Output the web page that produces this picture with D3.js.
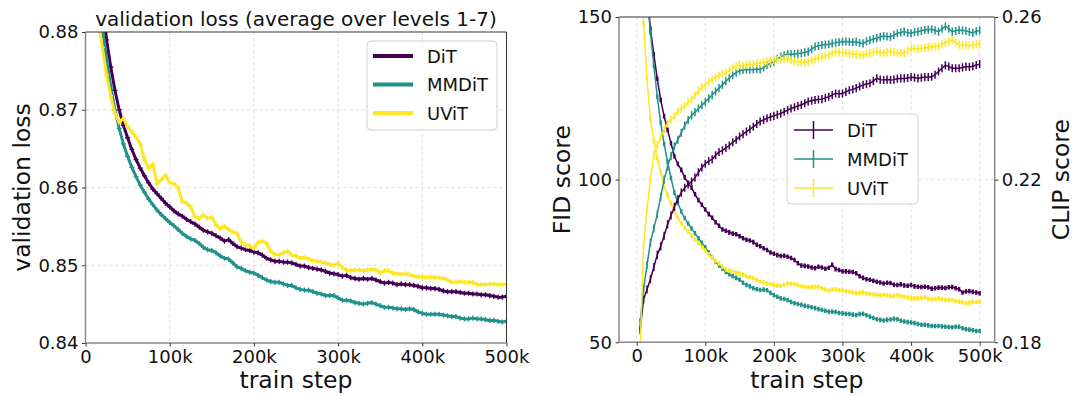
<!DOCTYPE html>
<html>
<head>
<meta charset="utf-8">
<script src="https://cdn.jsdelivr.net/npm/d3@7"></script>
<style>
  html, body { margin: 0; padding: 0; background: #fff; }
  svg { display: block; font-family: "DejaVu Sans", sans-serif; }
</style>
</head>
<body>
<div id="chart"></div>
<script>
// Two panels: validation loss vs train step (left), FID + CLIP vs train step
// with error bars on a twin y axis (right). Steps are in thousands.

const MODELS = ['DiT', 'MMDiT', 'UViT'];
const STEPS_K = [
  5, 10, 15, 20, 25, 30, 35, 40, 45, 50,
  55, 60, 65, 70, 75, 80, 85, 90, 95, 100,
  105, 110, 115, 120, 125, 130, 135, 140, 145, 150,
  155, 160, 165, 170, 175, 180, 185, 190, 195, 200,
  205, 210, 215, 220, 225, 230, 235, 240, 245, 250,
  255, 260, 265, 270, 275, 280, 285, 290, 295, 300,
  305, 310, 315, 320, 325, 330, 335, 340, 345, 350,
  355, 360, 365, 370, 375, 380, 385, 390, 395, 400,
  405, 410, 415, 420, 425, 430, 435, 440, 445, 450,
  455, 460, 465, 470, 475, 480, 485, 490, 495, 500,
];

const STEP_TICKS_K = [0, 100, 200, 300, 400, 500];
const LOSS_TICKS = [0.84, 0.85, 0.86, 0.87, 0.88];
const FID_TICKS = [50, 100, 150];
const CLIP_TICKS = [0.18, 0.22, 0.26];

const LOSS_DIT = [
  null, null, null, 0.8840, 0.8790, 0.8755, 0.8725, 0.8700, 0.8680, 0.8664,
  0.8649, 0.8636, 0.8625, 0.8615, 0.8606, 0.8598, 0.8592, 0.8586, 0.8580, 0.8575,
  0.8570, 0.8566, 0.8563, 0.8559, 0.8556, 0.8553, 0.8549, 0.8545, 0.8543, 0.8541,
  0.8538, 0.8535, 0.8531, 0.8533, 0.8528, 0.8524, 0.8522, 0.8520, 0.8519, 0.8517,
  0.8516, 0.8513, 0.8509, 0.8507, 0.8505, 0.8505, 0.8504, 0.8504, 0.8503, 0.8501,
  0.8499, 0.8499, 0.8497, 0.8496, 0.8495, 0.8494, 0.8492, 0.8490, 0.8489, 0.8488,
  0.8486, 0.8487, 0.8484, 0.8483, 0.8482, 0.8483, 0.8482, 0.8483, 0.8481, 0.8479,
  0.8477, 0.8478, 0.8477, 0.8475, 0.8476, 0.8475, 0.8475, 0.8474, 0.8473, 0.8471,
  0.8471, 0.8470, 0.8470, 0.8469, 0.8467, 0.8466, 0.8466, 0.8466, 0.8465, 0.8464,
  0.8464, 0.8463, 0.8463, 0.8462, 0.8462, 0.8461, 0.8460, 0.8459, 0.8459, 0.8460,
];
const LOSS_MMDIT = [
  null, null, null, 0.8805, 0.8765, 0.8730, 0.8700, 0.8676, 0.8656, 0.8640,
  0.8626, 0.8614, 0.8603, 0.8594, 0.8585, 0.8578, 0.8571, 0.8565, 0.8560, 0.8555,
  0.8551, 0.8546, 0.8541, 0.8537, 0.8534, 0.8532, 0.8528, 0.8523, 0.8520, 0.8519,
  0.8516, 0.8512, 0.8509, 0.8508, 0.8503, 0.8498, 0.8496, 0.8493, 0.8491, 0.8490,
  0.8487, 0.8484, 0.8481, 0.8479, 0.8478, 0.8478, 0.8476, 0.8474, 0.8474, 0.8471,
  0.8469, 0.8468, 0.8468, 0.8466, 0.8464, 0.8463, 0.8461, 0.8461, 0.8461, 0.8458,
  0.8455, 0.8455, 0.8454, 0.8452, 0.8451, 0.8450, 0.8451, 0.8452, 0.8450, 0.8448,
  0.8446, 0.8446, 0.8445, 0.8444, 0.8444, 0.8443, 0.8444, 0.8443, 0.8440, 0.8438,
  0.8437, 0.8437, 0.8437, 0.8437, 0.8436, 0.8435, 0.8434, 0.8434, 0.8432, 0.8431,
  0.8431, 0.8432, 0.8431, 0.8431, 0.8430, 0.8429, 0.8429, 0.8428, 0.8427, 0.8428,
];
const LOSS_UVIT = [
  null, null, 0.8815, 0.8780, 0.8745, 0.8718, 0.8695, 0.8684, 0.8689, 0.8678,
  0.8672, 0.8665, 0.8656, 0.8636, 0.8625, 0.8630, 0.8605, 0.8610, 0.8616, 0.8606,
  0.8605, 0.8600, 0.8582, 0.8580, 0.8575, 0.8563, 0.8560, 0.8565, 0.8560, 0.8562,
  0.8552, 0.8547, 0.8550, 0.8546, 0.8543, 0.8541, 0.8530, 0.8526, 0.8525, 0.8522,
  0.8529, 0.8531, 0.8528, 0.8518, 0.8514, 0.8513, 0.8516, 0.8518, 0.8513, 0.8512,
  0.8509, 0.8510, 0.8508, 0.8506, 0.8505, 0.8504, 0.8503, 0.8501, 0.8500, 0.8502,
  0.8497, 0.8494, 0.8493, 0.8494, 0.8494, 0.8493, 0.8494, 0.8495, 0.8494, 0.8490,
  0.8493, 0.8493, 0.8490, 0.8489, 0.8488, 0.8489, 0.8488, 0.8486, 0.8485, 0.8485,
  0.8484, 0.8485, 0.8484, 0.8484, 0.8483, 0.8481, 0.8478, 0.8478, 0.8479, 0.8478,
  0.8478, 0.8478, 0.8475, 0.8475, 0.8475, 0.8476, 0.8476, 0.8475, 0.8475, 0.8476,
];

const FID_DIT = [
  null, null, 158, 146.5, 138.5, 131, 124.5, 119.5, 115.3, 111.2,
  107.2, 104.8, 103, 100.7, 99, 97.5, 95.5, 93.7, 92.3, 90.8,
  89.4, 88.3, 86.9, 85.8, 84.7, 84.3, 83.8, 83.4, 83.2, 82.6,
  82.0, 81.5, 81.3, 80.8, 80.0, 79.5, 78.9, 78.4, 77.6, 77.2,
  76.8, 76.5, 76.6, 76.3, 75.9, 75.3, 74.3, 73.6, 73.5, 73.3,
  73.0, 72.8, 73.2, 73.0, 72.6, 72.9, 73.8, 72.5, 72.2, 71.8,
  71.8, 71.7, 71.6, 71.2, 70.3, 69.8, 69.4, 69.2, 68.9, 68.6,
  68.4, 68.1, 68.3, 68.2, 67.7, 67.6, 67.8, 67.5, 67.4, 67.6,
  67.2, 67.1, 67.0, 67.1, 66.9, 66.5, 66.6, 66.8, 66.8, 66.7,
  66.9, 67.0, 66.6, 66.3, 65.3, 65.6, 65.7, 65.5, 65.3, 65.1,
];
const FID_MMDIT = [
  null, null, 157, 145.2, 135, 125.5, 117.5, 111, 105.5, 100.5,
  96, 92.8, 90.2, 88.2, 86.5, 85, 83.5, 82, 80.6, 79.2,
  77.6, 76.0, 74.8, 73.6, 72.6, 71.6, 70.9, 70.3, 69.8, 69.2,
  68.3, 67.6, 67.2, 66.6, 66.3, 66.1, 66.2, 66.0, 65.2, 64.5,
  64.0, 63.5, 63.3, 63.0, 62.4, 62.0, 61.8, 61.5, 61.2, 61.0,
  60.8, 60.5, 60.2, 59.9, 59.7, 59.4, 59.4, 59.3, 59.0, 58.9,
  58.8, 58.7, 58.5, 58.4, 58.7, 58.8, 58.3, 57.9, 57.5, 57.1,
  56.9, 56.7, 56.9, 57.0, 57.2, 57.1, 56.6, 56.4, 56.2, 56.1,
  55.9, 55.6, 55.4, 55.4, 55.2, 55.0, 55.0, 55.0, 54.9, 54.8,
  54.7, 54.6, 54.8, 54.8, 54.3, 54.0, 53.9, 53.7, 53.5, 53.5,
];
const FID_UVIT = [
  172, 148, 131, 118.5, 112, 106.5, 102.2, 98, 95.3, 92.7,
  90.2, 88.2, 86.6, 85.2, 84, 82.8, 81.6, 80.5, 79.4, 78.2,
  77.0, 75.9, 75.0, 74.2, 73.2, 72.4, 72.0, 71.7, 71.5, 71.2,
  70.8, 70.3, 70.0, 69.7, 69.2, 68.7, 68.4, 68.1, 67.9, 67.6,
  67.4, 67.3, 67.7, 68.1, 68.0, 67.9, 67.6, 67.3, 67.1, 66.9,
  67.0, 67.1, 66.9, 66.6, 66.2, 65.9, 66.2, 66.3, 66.0, 65.9,
  65.7, 65.6, 65.3, 65.1, 65.2, 65.3, 65.0, 64.9, 64.7, 64.5,
  64.5, 64.6, 64.4, 64.2, 64.3, 64.5, 64.2, 64.0, 63.8, 63.5,
  63.5, 63.5, 63.7, 63.8, 63.4, 63.2, 63.3, 63.5, 63.2, 63.0,
  63.0, 63.0, 62.8, 62.5, 62.3, 62.0, 62.2, 62.5, 62.4, 62.5,
];

const CLIP_DIT = [
  0.1830, 0.1905, 0.1930, 0.1955, 0.1985, 0.2015, 0.2036, 0.2062, 0.2090, 0.2112,
  0.2133, 0.2152, 0.2168, 0.2180, 0.2188, 0.2195, 0.2205, 0.2218, 0.2230, 0.2239,
  0.2246, 0.2250, 0.2260, 0.2268, 0.2272, 0.2278, 0.2284, 0.2292, 0.2298, 0.2306,
  0.2312, 0.2318, 0.2324, 0.2330, 0.2337, 0.2343, 0.2347, 0.2351, 0.2354, 0.2357,
  0.2360, 0.2363, 0.2367, 0.2371, 0.2375, 0.2378, 0.2381, 0.2384, 0.2388, 0.2392,
  0.2394, 0.2396, 0.2397, 0.2398, 0.2401, 0.2404, 0.2408, 0.2412, 0.2411, 0.2412,
  0.2416, 0.2420, 0.2422, 0.2425, 0.2429, 0.2433, 0.2435, 0.2437, 0.2443, 0.2449,
  0.2446, 0.2445, 0.2446, 0.2445, 0.2446, 0.2448, 0.2449, 0.2449, 0.2450, 0.2452,
  0.2451, 0.2449, 0.2451, 0.2452, 0.2452, 0.2453, 0.2458, 0.2466, 0.2474, 0.2481,
  0.2478, 0.2474, 0.2474, 0.2474, 0.2476, 0.2478, 0.2477, 0.2479, 0.2482, 0.2484,
];
const CLIP_MMDIT = [
  0.1850, 0.1930, 0.1990, 0.2045, 0.2080, 0.2115, 0.2158, 0.2200, 0.2232, 0.2258,
  0.2282, 0.2298, 0.2315, 0.2333, 0.2347, 0.2358, 0.2366, 0.2375, 0.2383, 0.2391,
  0.2400, 0.2408, 0.2417, 0.2425, 0.2433, 0.2442, 0.2450, 0.2457, 0.2463, 0.2468,
  0.2470, 0.2471, 0.2470, 0.2471, 0.2472, 0.2471, 0.2476, 0.2482, 0.2486, 0.2490,
  0.2497, 0.2502, 0.2506, 0.2509, 0.2508, 0.2509, 0.2510, 0.2511, 0.2513, 0.2515,
  0.2521, 0.2527, 0.2529, 0.2531, 0.2532, 0.2533, 0.2535, 0.2537, 0.2538, 0.2539,
  0.2540, 0.2539, 0.2538, 0.2539, 0.2536, 0.2535, 0.2540, 0.2543, 0.2546, 0.2548,
  0.2551, 0.2553, 0.2552, 0.2551, 0.2556, 0.2560, 0.2562, 0.2564, 0.2561, 0.2560,
  0.2563, 0.2564, 0.2566, 0.2568, 0.2569, 0.2570, 0.2567, 0.2564, 0.2571, 0.2577,
  0.2571, 0.2564, 0.2566, 0.2568, 0.2567, 0.2566, 0.2563, 0.2561, 0.2565, 0.2567,
];
const CLIP_UVIT = [
  0.1780, 0.2040, 0.2125, 0.2200, 0.2260, 0.2284, 0.2305, 0.2322, 0.2338, 0.2347,
  0.2356, 0.2368, 0.2374, 0.2381, 0.2390, 0.2397, 0.2407, 0.2419, 0.2427, 0.2433,
  0.2441, 0.2447, 0.2451, 0.2456, 0.2460, 0.2463, 0.2468, 0.2475, 0.2479, 0.2482,
  0.2481, 0.2483, 0.2484, 0.2484, 0.2487, 0.2486, 0.2489, 0.2490, 0.2492, 0.2494,
  0.2495, 0.2496, 0.2497, 0.2498, 0.2494, 0.2491, 0.2489, 0.2488, 0.2489, 0.2490,
  0.2493, 0.2496, 0.2499, 0.2501, 0.2504, 0.2507, 0.2511, 0.2515, 0.2513, 0.2512,
  0.2511, 0.2510, 0.2509, 0.2508, 0.2507, 0.2506, 0.2509, 0.2511, 0.2513, 0.2515,
  0.2512, 0.2511, 0.2513, 0.2515, 0.2513, 0.2512, 0.2511, 0.2511, 0.2517, 0.2523,
  0.2522, 0.2521, 0.2523, 0.2524, 0.2526, 0.2527, 0.2527, 0.2528, 0.2533, 0.2537,
  0.2540, 0.2543, 0.2537, 0.2532, 0.2531, 0.2531, 0.2530, 0.2531, 0.2533, 0.2534,
];

// half-widths of the error bars (data units)
const FID_ERR = 0.7;
const CLIP_ERR = 0.001;

const d3 = window.d3;
const FONT = '"DejaVu Sans", sans-serif';
const COLORS = { DiT: '#440154', MMDiT: '#21918c', UViT: '#fde725' };
const GRID = '#d4d4d4';
const SPINE_LIGHT = '#8a8a8a';
const SPINE_DARK = '#333';

const fmtK = (d) => (d === 0 ? '0' : `${d}k`);

const svg = d3.select('#chart').append('svg').attr('width', 1080).attr('height', 396);
svg.append('rect').attr('width', 1080).attr('height', 396).attr('fill', '#fff');

function styleAxis(g) {
  g.attr('font-family', FONT).attr('font-size', 18);
  g.select('.domain').remove();
  g.selectAll('.tick line').attr('stroke', '#222').attr('stroke-width', 0.9);
  g.selectAll('.tick text').attr('fill', '#111');
}

function drawFrame(box) {
  const f = svg.append('g');
  f.append('line').attr('x1', box.x0).attr('x2', box.x1).attr('y1', box.y0).attr('y2', box.y0)
    .attr('stroke', SPINE_DARK).attr('stroke-width', 1);
  f.append('line').attr('x1', box.x1).attr('x2', box.x1).attr('y1', box.y0).attr('y2', box.y1)
    .attr('stroke', box.rightColor || SPINE_DARK).attr('stroke-width', box.rightColor ? 1.5 : 1);
  f.append('line').attr('x1', box.x0).attr('x2', box.x0).attr('y1', box.y0).attr('y2', box.y1)
    .attr('stroke', SPINE_LIGHT).attr('stroke-width', 1.5);
  f.append('line').attr('x1', box.x0).attr('x2', box.x1).attr('y1', box.y1).attr('y2', box.y1)
    .attr('stroke', SPINE_LIGHT).attr('stroke-width', 1.5);
}

function seriesPoints(values) {
  return STEPS_K.map((k, i) => ({ k, v: values[i] })).filter((d) => d.v != null);
}

// ---------- left panel: validation loss ----------
const BL = { x0: 85.5, x1: 506.5, y0: 32, y1: 343 };
const xL = d3.scaleLinear().domain([0, 500]).range([BL.x0, BL.x1]);
const yL = d3.scaleLinear().domain([0.84, 0.88]).range([BL.y1, BL.y0]);

const gridL = svg.append('g').attr('stroke', GRID).attr('stroke-width', 0.8).attr('stroke-dasharray', '3,3');
STEP_TICKS_K.filter((d) => d > 0 && d < 500).forEach((d) => {
  gridL.append('line').attr('x1', xL(d)).attr('x2', xL(d)).attr('y1', BL.y0).attr('y2', BL.y1);
});
LOSS_TICKS.filter((d) => d > 0.84 && d < 0.88).forEach((d) => {
  gridL.append('line').attr('x1', BL.x0).attr('x2', BL.x1).attr('y1', yL(d)).attr('y2', yL(d));
});

svg.append('clipPath').attr('id', 'clipL').append('rect')
  .attr('x', BL.x0).attr('y', BL.y0).attr('width', BL.x1 - BL.x0).attr('height', BL.y1 - BL.y0);
const plotL = svg.append('g').attr('clip-path', 'url(#clipL)');

const LOSS_SERIES = [
  { name: 'DiT', values: LOSS_DIT },
  { name: 'MMDiT', values: LOSS_MMDIT },
  { name: 'UViT', values: LOSS_UVIT },
];
const lineL = d3.line().x((d) => xL(d.k)).y((d) => yL(d.v));
LOSS_SERIES.forEach((s) => {
  const pts = seriesPoints(s.values);
  plotL.append('path').datum(pts).attr('d', lineL)
    .attr('fill', 'none').attr('stroke', COLORS[s.name]).attr('stroke-width', 3).attr('stroke-linejoin', 'round');
  const plus = pts.map((d) => {
    const x = xL(d.k), y = yL(d.v);
    return `M${x - 2.5},${y}h5M${x},${y - 2.6}v5.2`;
  }).join('');
  plotL.append('path').attr('d', plus).attr('fill', 'none')
    .attr('stroke', COLORS[s.name]).attr('stroke-width', 1.3);
});

drawFrame(BL);

svg.append('g').attr('transform', `translate(0,${BL.y1})`)
  .call(d3.axisBottom(xL).tickValues(STEP_TICKS_K).tickFormat(fmtK).tickSize(3.5).tickPadding(3.5))
  .call(styleAxis);
svg.append('g').attr('transform', `translate(${BL.x0},0)`)
  .call(d3.axisLeft(yL).tickValues(LOSS_TICKS).tickFormat(d3.format('.2f')).tickSize(3.5).tickPadding(3.5))
  .call(styleAxis);

svg.append('text').attr('x', (BL.x0 + BL.x1) / 2).attr('y', 26).attr('text-anchor', 'middle')
  .attr('font-size', 20).attr('fill', '#111').text('validation loss (average over levels 1-7)');
svg.append('text').attr('x', (BL.x0 + BL.x1) / 2).attr('y', 388).attr('text-anchor', 'middle')
  .attr('font-size', 23.5).attr('fill', '#111').text('train step');
svg.append('text').attr('transform', `translate(30,${(BL.y0 + BL.y1) / 2}) rotate(-90)`)
  .attr('text-anchor', 'middle').attr('font-size', 23.5).attr('fill', '#111').text('validation loss');

// legend (left)
const legL = svg.append('g');
legL.append('rect').attr('x', 367).attr('y', 41).attr('width', 130).attr('height', 89).attr('rx', 4)
  .attr('fill', '#fff').attr('fill-opacity', 0.85).attr('stroke', '#d0d0d0').attr('stroke-width', 1);
MODELS.forEach((m, i) => {
  const y = 56 + i * 28.5;
  legL.append('line').attr('x1', 373).attr('x2', 413).attr('y1', y).attr('y2', y)
    .attr('stroke', COLORS[m]).attr('stroke-width', 4);
  legL.append('text').attr('x', 427).attr('y', y + 6.5).attr('font-size', 18).attr('fill', '#111').text(m);
});

// ---------- right panel: FID (left axis) and CLIP (right axis) ----------
const BR = { x0: 619, x1: 994.7, y0: 17, y1: 342.3, rightColor: SPINE_LIGHT };
const xR = d3.scaleLinear().domain([-25.8, 521.9]).range([BR.x0, BR.x1]);
const yF = d3.scaleLinear().domain([50, 150]).range([BR.y1, BR.y0]);
const yC = d3.scaleLinear().domain([0.18, 0.26]).range([BR.y1, BR.y0]);

const gridR = svg.append('g').attr('stroke', GRID).attr('stroke-width', 0.8).attr('stroke-dasharray', '3,3');
STEP_TICKS_K.forEach((d) => {
  gridR.append('line').attr('x1', xR(d)).attr('x2', xR(d)).attr('y1', BR.y0).attr('y2', BR.y1);
});
FID_TICKS.filter((d) => d > 50 && d < 150).forEach((d) => {
  gridR.append('line').attr('x1', BR.x0).attr('x2', BR.x1).attr('y1', yF(d)).attr('y2', yF(d));
});

svg.append('clipPath').attr('id', 'clipR').append('rect')
  .attr('x', BR.x0).attr('y', BR.y0).attr('width', BR.x1 - BR.x0).attr('height', BR.y1 - BR.y0);
const plotR = svg.append('g').attr('clip-path', 'url(#clipR)');

function drawErrorSeries(values, yScale, err, color, barWidth) {
  const pts = seriesPoints(values);
  const line = d3.line().x((d) => xR(d.k)).y((d) => yScale(d.v));
  plotR.append('path').datum(pts).attr('d', line)
    .attr('fill', 'none').attr('stroke', color).attr('stroke-width', 1.5);
  const bars = pts.map((d) => {
    const x = xR(d.k);
    return `M${x},${yScale(d.v - err)}V${yScale(d.v + err)}`;
  }).join('');
  plotR.append('path').attr('d', bars).attr('fill', 'none').attr('stroke', color).attr('stroke-width', barWidth);
}

const FID_SERIES = [
  { name: 'DiT', values: FID_DIT },
  { name: 'MMDiT', values: FID_MMDIT },
  { name: 'UViT', values: FID_UVIT },
];
const CLIP_SERIES = [
  { name: 'DiT', values: CLIP_DIT },
  { name: 'MMDiT', values: CLIP_MMDIT },
  { name: 'UViT', values: CLIP_UVIT },
];
FID_SERIES.forEach((s) => drawErrorSeries(s.values, yF, FID_ERR, COLORS[s.name], 2.4));
CLIP_SERIES.forEach((s) => drawErrorSeries(s.values, yC, CLIP_ERR, COLORS[s.name], 1.5));

drawFrame(BR);

svg.append('g').attr('transform', `translate(0,${BR.y1})`)
  .call(d3.axisBottom(xR).tickValues(STEP_TICKS_K).tickFormat(fmtK).tickSize(3.5).tickPadding(3.5))
  .call(styleAxis);
svg.append('g').attr('transform', `translate(${BR.x0},0)`)
  .call(d3.axisLeft(yF).tickValues(FID_TICKS).tickSize(3.5).tickPadding(3.5))
  .call(styleAxis);
svg.append('g').attr('transform', `translate(${BR.x1},0)`)
  .call(d3.axisRight(yC).tickValues(CLIP_TICKS).tickFormat(d3.format('.2f')).tickSize(3.5).tickPadding(3.5))
  .call(styleAxis);

svg.append('text').attr('x', (BR.x0 + BR.x1) / 2).attr('y', 388).attr('text-anchor', 'middle')
  .attr('font-size', 23.5).attr('fill', '#111').text('train step');
svg.append('text').attr('transform', `translate(569.5,${(BR.y0 + BR.y1) / 2}) rotate(-90)`)
  .attr('text-anchor', 'middle').attr('font-size', 23.5).attr('fill', '#111').text('FID score');
svg.append('text').attr('transform', `translate(1068.5,${(BR.y0 + BR.y1) / 2}) rotate(-90)`)
  .attr('text-anchor', 'middle').attr('font-size', 23.5).attr('fill', '#111').text('CLIP score');

// legend (right) with errorbar glyphs
const legR = svg.append('g');
legR.append('rect').attr('x', 787).attr('y', 114).attr('width', 131).attr('height', 90).attr('rx', 4)
  .attr('fill', '#fff').attr('fill-opacity', 0.85).attr('stroke', '#d0d0d0').attr('stroke-width', 1);
MODELS.forEach((m, i) => {
  const y = 130 + i * 29;
  legR.append('line').attr('x1', 794).attr('x2', 833).attr('y1', y).attr('y2', y)
    .attr('stroke', COLORS[m]).attr('stroke-width', 1.5);
  legR.append('line').attr('x1', 813.5).attr('x2', 813.5).attr('y1', y - 9).attr('y2', y + 9)
    .attr('stroke', COLORS[m]).attr('stroke-width', 1.5);
  legR.append('text').attr('x', 847).attr('y', y + 6.5).attr('font-size', 18).attr('fill', '#111').text(m);
});
</script>
</body>
</html>
